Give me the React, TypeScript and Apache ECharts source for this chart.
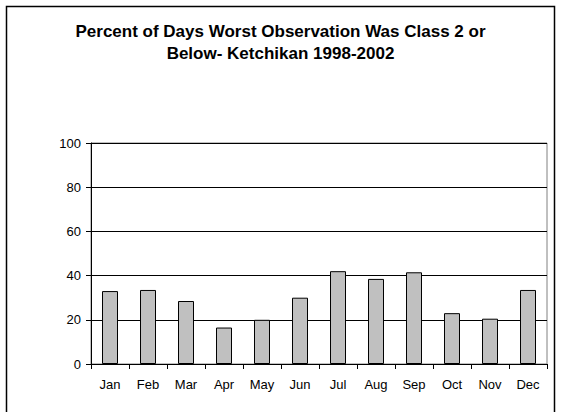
import React, { useEffect, useRef } from "react";
import * as echarts from "echarts";

const categories = ["Jan", "Feb", "Mar", "Apr", "May", "Jun", "Jul", "Aug", "Sep", "Oct", "Nov", "Dec"];
const values = [33, 33.5, 28.5, 16.5, 20, 30, 42, 38.5, 41.5, 23, 20.5, 33.5];
const titleLines = ["Percent of Days Worst Observation Was Class 2 or", "Below- Ketchikan 1998-2002"];

const FONT = "'Liberation Sans', Arial, sans-serif";

export default function App() {
  const ref = useRef<HTMLDivElement>(null);
  useEffect(() => {
    if (!ref.current) return;
    const chart = echarts.init(ref.current, undefined, { renderer: "svg" });
    chart.setOption({
      animation: false,
      backgroundColor: "#fff",
      title: {
        text: titleLines.join("\n"),
        left: "center",
        top: 20,
        padding: 0,
        textStyle: { fontFamily: FONT, fontSize: 17, fontWeight: "bold", color: "#000", lineHeight: 22 },
      },
      graphic: [
        {
          type: "rect",
          shape: { x: 6.5, y: 6.5, width: 548, height: 420 },
          style: { fill: "none", stroke: "#000", lineWidth: 1.5 },
          silent: true,
        },
      ],
      grid: {
        left: 91,
        top: 143,
        right: 14,
        bottom: 48,
        show: true,
        borderColor: "#808080",
        borderWidth: 1,
        backgroundColor: "transparent",
      },
      xAxis: {
        type: "category",
        data: categories,
        boundaryGap: true,
        axisLine: { lineStyle: { color: "#000", width: 1 } },
        axisTick: { show: true, inside: false, length: 5, alignWithLabel: false, lineStyle: { color: "#000" } },
        axisLabel: { color: "#000", fontFamily: FONT, fontSize: 13, margin: 14, interval: 0 },
        splitLine: { show: false },
      },
      yAxis: {
        type: "value",
        min: 0,
        max: 100,
        interval: 20,
        axisLine: { show: true, lineStyle: { color: "#000", width: 1 } },
        axisTick: { show: true, inside: false, length: 5, lineStyle: { color: "#000" } },
        axisLabel: { color: "#000", fontFamily: FONT, fontSize: 13, margin: 10 },
        splitLine: { show: true, lineStyle: { color: "#000", width: 1 } },
      },
      series: [
        {
          type: "bar",
          data: values,
          barWidth: 16,
          itemStyle: { color: "#C0C0C0", borderColor: "#000", borderWidth: 1 },
        },
      ],
    });
    return () => chart.dispose();
  }, []);
  return (
    <div
      ref={ref}
      style={{ position: "absolute", left: 0, top: 0, width: 561, height: 412 }}
    />
  );
}
